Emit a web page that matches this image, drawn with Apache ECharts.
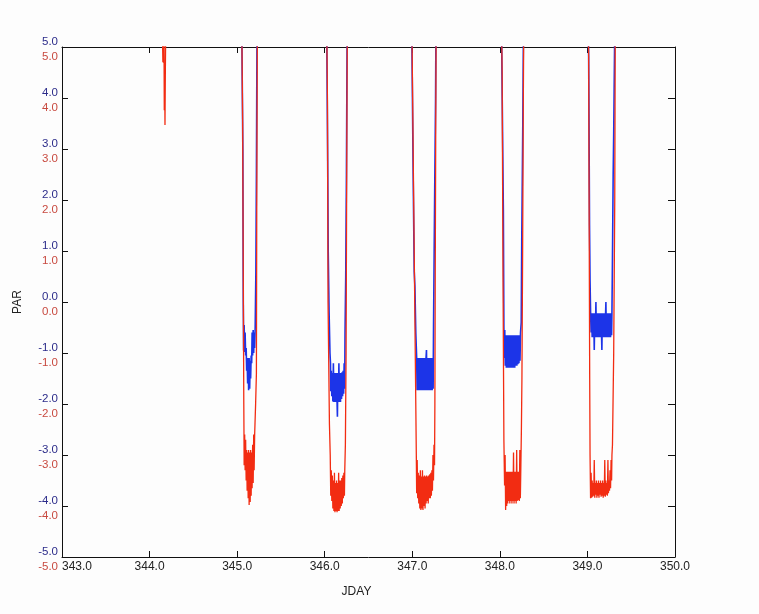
<!DOCTYPE html>
<html>
<head>
<meta charset="utf-8">
<script src="https://cdn.jsdelivr.net/npm/echarts@6/dist/echarts.min.js"></script>
<style>
html,body{margin:0;padding:0;background:#fdfdfd;}
#chart{width:759px;height:614px;}
</style>
</head>
<body>
<div id="chart"></div>
<script>
// X axis (JDAY) and Y axis (PAR) ranges / ticks
const xMin = 343, xMax = 350, xStep = 1;
const yMin = -5, yMax = 5, yStep = 1;
const xTitle = 'JDAY';
const yTitle = 'PAR';

// Daytime values are off the top of the scale (clipped)
const dayLevel = 6;

// ---------- red series ----------
const redSpike344 = [[344.140,6],[344.152,4.7],[344.156,5.5],[344.160,4.69],[344.164,5.5],[344.168,3.76],[344.172,4.6],[344.176,3.47],[344.180,4.5],[344.188,6]];

const redNight345 = [[345.050,6],[345.063,3.5],[345.070,0.5],[345.076,-2.0],[345.078,-2.55],
 [345.080,-3.2],[345.086,-2.6],[345.091,-3.3],[345.097,-2.7],[345.103,-3.5],[345.109,-2.9],[345.114,-3.7],[345.120,-2.95],
 [345.126,-3.85],[345.131,-2.9],[345.137,-3.98],[345.143,-2.95],[345.149,-3.92],[345.154,-2.9],[345.160,-3.8],[345.166,-2.95],
 [345.171,-3.65],[345.177,-2.8],[345.183,-3.55],[345.189,-2.6],[345.194,-3.3],[345.200,-2.6],
 [345.211,-2.0],[345.220,-1.4],[345.224,1.8],[345.231,5.5],[345.236,6]];

const redNight346 = [[346.020,6],[346.031,4.0],[346.038,0.0],[346.054,-2.4],[346.063,-3.0],
 [346.069,-3.8],[346.075,-3.3],[346.081,-3.9],[346.087,-3.4],[346.093,-4.05],[346.099,-3.5],[346.105,-4.1],[346.111,-3.35],
 [346.117,-4.12],[346.123,-3.55],[346.129,-4.1],[346.135,-3.5],[346.141,-4.12],[346.147,-3.55],[346.153,-4.1],[346.159,-3.35],
 [346.165,-4.1],[346.171,-3.5],[346.177,-4.05],[346.183,-3.5],[346.189,-4.0],[346.195,-3.45],[346.201,-3.95],[346.207,-3.4],
 [346.213,-3.85],[346.219,-3.35],[346.225,-3.8],[346.229,-3.3],
 [346.236,-2.8],[346.244,-1.0],[346.250,2.0],[346.257,5.0],[346.262,6]];

const redNight347 = [[346.990,6],[346.998,5.0],[347.017,1.8],[347.037,-1.5],[347.046,-3.0],
 [347.050,-3.75],[347.056,-3.1],[347.062,-3.85],[347.068,-3.35],[347.074,-3.95],[347.080,-3.4],[347.086,-4.05],[347.092,-3.3],
 [347.098,-4.08],[347.104,-3.42],[347.110,-4.05],[347.116,-3.3],[347.122,-4.08],[347.128,-3.42],[347.134,-4.0],[347.140,-3.4],
 [347.146,-4.05],[347.152,-3.42],[347.158,-3.95],[347.164,-3.4],[347.170,-3.9],[347.176,-3.42],[347.182,-3.95],[347.188,-3.4],
 [347.194,-3.85],[347.200,-3.38],[347.206,-3.85],[347.212,-3.35],[347.218,-3.8],[347.224,-3.3],[347.230,-3.7],[347.236,-3.0],
 [347.242,-3.5],[347.248,-2.8],[347.254,-3.2],
 [347.258,-2.0],[347.262,0.5],[347.268,3.5],[347.274,6]];

const redNight348 = [[348.015,6],[348.026,4.5],[348.036,0.5],[348.046,-2.7],
 [348.054,-3.6],[348.060,-3.0],[348.066,-4.08],[348.072,-3.33],[348.078,-4.0],[348.084,-3.33],[348.090,-3.95],[348.096,-3.33],
 [348.102,-3.9],[348.108,-3.33],[348.114,-3.95],[348.120,-3.33],[348.126,-3.9],[348.132,-3.33],[348.138,-3.95],[348.144,-3.33],
 [348.150,-3.9],[348.156,-2.95],[348.162,-3.95],[348.168,-3.33],[348.174,-3.9],[348.180,-3.33],[348.186,-3.95],[348.192,-2.9],
 [348.198,-3.9],[348.204,-3.33],[348.210,-3.88],[348.216,-3.33],[348.222,-3.9],[348.228,-2.9],[348.234,-3.85],[348.240,-3.2],
 [348.246,-2.5],[348.252,-1.5],[348.260,1.0],[348.268,4.0],[348.275,6]];

const redNight349 = [[349.005,6],[349.014,4.8],[349.020,1.5],[349.026,-1.5],[349.030,-3.0],
 [349.036,-3.85],[349.042,-3.35],[349.048,-3.84],[349.054,-3.5],[349.060,-3.82],[349.066,-3.55],[349.072,-3.8],[349.078,-3.1],
 [349.084,-3.84],[349.090,-3.55],[349.096,-3.78],[349.102,-3.5],[349.108,-3.84],[349.114,-3.55],[349.120,-3.8],[349.126,-3.5],
 [349.132,-3.84],[349.138,-3.55],[349.144,-3.78],[349.150,-3.5],[349.156,-3.82],[349.162,-3.55],[349.168,-3.8],[349.174,-3.5],
 [349.180,-3.84],[349.186,-3.55],[349.192,-3.8],[349.198,-3.1],[349.204,-3.82],[349.210,-3.5],[349.216,-3.78],[349.222,-3.55],
 [349.228,-3.8],[349.234,-3.1],[349.240,-3.75],[349.246,-3.5],[349.252,-3.7],[349.258,-3.3],[349.264,-3.65],[349.270,-3.1],
 [349.276,-3.5],[349.280,-3.0],
 [349.286,-2.8],[349.300,-1.0],[349.312,2.0],[349.318,5.5],[349.320,6]];

// ---------- blue series ----------
const blueNight345 = [[345.050,6],[345.065,3.0],[345.070,0.0],[345.072,-0.4],
 [345.074,-0.95],[345.080,-0.45],[345.086,-0.98],[345.091,-0.6],[345.097,-1.05],[345.103,-0.9],[345.109,-1.35],[345.114,-1.1],
 [345.120,-1.6],[345.126,-1.1],[345.131,-1.73],[345.137,-1.1],[345.143,-1.7],[345.149,-1.15],[345.154,-1.5],[345.160,-1.05],
 [345.166,-1.2],[345.171,-0.6],[345.177,-1.05],[345.183,-0.55],[345.189,-1.0],[345.194,-0.6],[345.200,-0.9],
 [345.206,-0.5],[345.214,0.6],[345.220,2.5],[345.226,5.0],[345.232,6]];

const blueNight346 = [[346.020,6],[346.033,3.0],[346.040,1.0],[346.050,-0.2],[346.060,-1.0],[346.066,-1.2],
 [346.069,-1.75],[346.075,-1.35],[346.081,-1.85],[346.087,-1.39],[346.093,-1.95],[346.099,-1.2],[346.105,-1.96],[346.111,-1.39],
 [346.117,-1.96],[346.123,-1.39],[346.129,-1.96],[346.135,-1.39],[346.141,-1.96],[346.145,-2.25],[346.150,-1.39],[346.156,-1.96],
 [346.162,-1.2],[346.168,-1.96],[346.174,-1.39],[346.180,-1.96],[346.186,-1.39],[346.192,-1.9],[346.198,-1.38],[346.204,-1.85],
 [346.210,-1.35],[346.216,-1.8],[346.222,-1.2],[346.228,-1.7],[346.232,-0.6],
 [346.240,0.5],[346.248,2.5],[346.255,5.0],[346.260,6]];

const blueNight347 = [[346.990,6],[346.999,4.5],[347.010,2.5],[347.022,0.6],[347.030,0.3],[347.040,-0.6],[347.050,-1.1],
 [347.055,-1.73],[347.061,-1.1],[347.067,-1.73],[347.073,-1.1],[347.079,-1.73],[347.085,-1.1],[347.091,-1.73],[347.097,-1.1],
 [347.103,-1.73],[347.109,-1.1],[347.115,-1.73],[347.121,-1.1],[347.127,-1.73],[347.133,-1.1],[347.139,-1.73],[347.145,-1.1],
 [347.151,-1.73],[347.157,-1.1],[347.162,-0.94],[347.167,-1.73],[347.173,-1.1],[347.179,-1.73],[347.185,-1.1],[347.191,-1.73],
 [347.197,-1.1],[347.203,-1.73],[347.209,-1.1],[347.215,-1.73],[347.221,-1.1],[347.227,-1.73],[347.233,-1.1],[347.238,-1.7],
 [347.243,-0.4],[347.250,1.0],[347.256,2.2],[347.266,4.0],[347.272,6]];

const blueNight348 = [[348.015,6],[348.027,4.0],[348.040,1.8],[348.046,-0.5],[348.050,-1.1],[348.056,-0.55],
 [348.062,-1.25],[348.068,-0.65],[348.074,-1.29],[348.080,-0.65],[348.086,-1.29],[348.092,-0.65],[348.098,-1.29],[348.104,-0.65],
 [348.110,-1.29],[348.116,-0.65],[348.122,-1.29],[348.128,-0.65],[348.134,-1.29],[348.140,-0.65],[348.146,-1.29],[348.152,-0.65],
 [348.158,-1.29],[348.164,-0.65],[348.170,-1.29],[348.176,-0.65],[348.182,-1.25],[348.188,-0.65],[348.194,-1.25],[348.200,-0.65],
 [348.206,-1.22],[348.212,-0.65],[348.218,-1.2],[348.224,-0.65],[348.230,-1.15],[348.236,-0.6],
 [348.244,-0.4],[348.250,1.2],[348.262,3.5],[348.272,6]];

const blueNight349 = [[349.005,6],[349.014,4.8],[349.020,2.9],[349.024,1.5],[349.030,0.4],[349.036,-0.2],[349.042,-0.6],[349.048,-0.22],
 [349.054,-0.69],[349.060,-0.22],[349.066,-0.69],[349.072,-0.22],[349.078,-0.94],[349.084,-0.22],[349.090,-0.69],[349.097,0.0],
 [349.102,-0.69],[349.108,-0.22],[349.114,-0.69],[349.120,-0.22],[349.126,-0.69],[349.132,-0.22],[349.138,-0.69],[349.144,-0.22],
 [349.150,-0.69],[349.156,-0.22],[349.165,-0.94],[349.170,-0.22],[349.176,-0.69],[349.182,-0.22],[349.188,-0.69],[349.194,-0.22],
 [349.200,-0.69],[349.211,0.0],[349.216,-0.69],[349.222,-0.22],[349.228,-0.69],[349.234,-0.22],[349.240,-0.69],[349.246,-0.22],
 [349.252,-0.69],[349.258,-0.22],[349.264,-0.69],[349.270,-0.22],[349.276,-0.65],[349.280,-0.2],
 [349.284,0.5],[349.288,1.27],[349.294,2.5],[349.300,3.3],[349.310,5.0],[349.315,6]];

const redData = [[xMin, dayLevel], ...redSpike344, ...redNight345, ...redNight346, ...redNight347, ...redNight348, ...redNight349, [xMax, dayLevel]];
const blueData = [[xMin, dayLevel], ...blueNight345, ...blueNight346, ...blueNight347, ...blueNight348, ...blueNight349, [xMax, dayLevel]];

const chart = echarts.init(document.getElementById('chart'), null, {renderer: 'canvas'});
const axisColor = '#111';
const fontFam = '"Liberation Sans", Arial, Helvetica, sans-serif';

chart.setOption({
  backgroundColor: '#fdfdfd',
  animation: false,
  grid: {left: 62, top: 47, right: 84, bottom: 57, containLabel: false},
  xAxis: [{
    type: 'value', min: xMin, max: xMax, interval: xStep, position: 'bottom',
    name: xTitle, nameLocation: 'middle', nameGap: 29,
    nameTextStyle: {color: '#222', fontSize: 12, fontFamily: fontFam, padding: [0, 24, 0, 0]},
    axisLine: {show: true, onZero: false, lineStyle: {color: axisColor, width: 1}},
    axisTick: {show: true, inside: true, length: 6, lineStyle: {color: axisColor}},
    axisLabel: {color: '#222', fontSize: 12, fontFamily: fontFam, margin: 4, alignMinLabel: 'left',
      formatter: v => v.toFixed(1)},
    splitLine: {show: false}
  }, {
    type: 'value', min: xMin, max: xMax, interval: xStep, position: 'top',
    axisLine: {show: true, onZero: false, lineStyle: {color: axisColor, width: 1}},
    axisTick: {show: true, inside: true, length: 6, lineStyle: {color: axisColor}},
    axisLabel: {show: false}, splitLine: {show: false}
  }],
  yAxis: [{
    type: 'value', min: yMin, max: yMax, interval: yStep, position: 'left',
    name: yTitle, nameLocation: 'middle', nameGap: 38, nameRotate: 90,
    nameTextStyle: {color: '#222', fontSize: 12, fontFamily: fontFam},
    axisLine: {show: true, onZero: false, lineStyle: {color: axisColor, width: 1}},
    axisTick: {show: true, inside: true, length: 6, lineStyle: {color: axisColor}},
    axisLabel: {margin: 4, padding: [5, 0, 0, 0], fontFamily: fontFam,
      formatter: v => '{b|' + v.toFixed(1) + '}\n{r|' + v.toFixed(1) + '}',
      rich: {
        b: {color: '#2c2c8a', fontSize: 11.5, lineHeight: 15, fontFamily: fontFam},
        r: {color: '#c84a40', fontSize: 11.5, lineHeight: 15, fontFamily: fontFam}
      }},
    splitLine: {show: false}
  }, {
    type: 'value', min: yMin, max: yMax, interval: yStep, position: 'right',
    axisLine: {show: true, onZero: false, lineStyle: {color: axisColor, width: 1}},
    axisTick: {show: true, inside: true, length: 7, lineStyle: {color: axisColor}},
    axisLabel: {show: false}, splitLine: {show: false}
  }],
  series: [{
    type: 'line', name: 'blue', data: blueData, xAxisIndex: 0, yAxisIndex: 0,
    showSymbol: false, symbol: 'none', clip: true, sampling: null,
    lineStyle: {color: '#1c34e8', width: 1.6},
    emphasis: {disabled: true}, silent: true
  }, {
    type: 'line', name: 'red', data: redData, xAxisIndex: 0, yAxisIndex: 0,
    showSymbol: false, symbol: 'none', clip: true, sampling: null,
    lineStyle: {color: '#f22c12', width: 1.3},
    emphasis: {disabled: true}, silent: true
  }]
});
</script>
</body>
</html>
